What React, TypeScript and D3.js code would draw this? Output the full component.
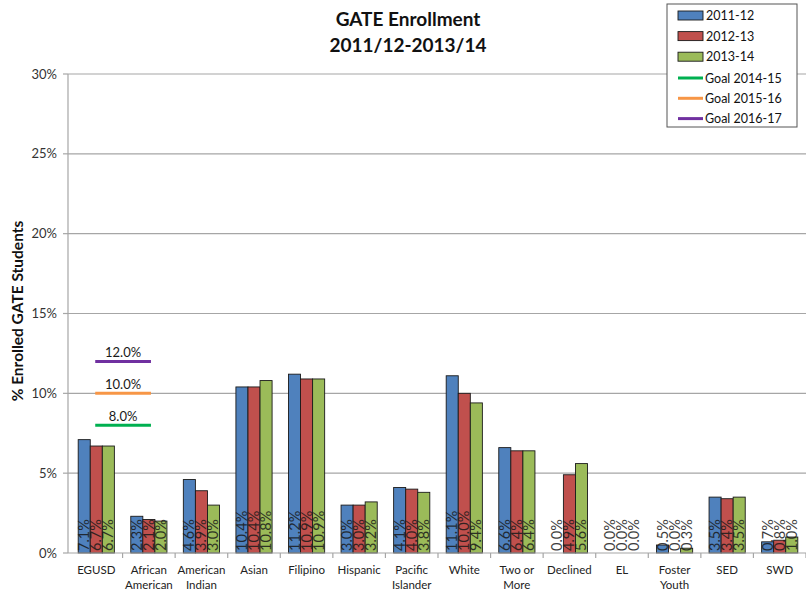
import React from "react";
import * as d3 from "d3";

const categories = [
  ["EGUSD"], ["African", "American"], ["American", "Indian"], ["Asian"], ["Filipino"],
  ["Hispanic"], ["Pacific", "Islander"], ["White"], ["Two or", "More"], ["Declined"],
  ["EL"], ["Foster", "Youth"], ["SED"], ["SWD"],
];
const series = ["2011-12", "2012-13", "2013-14"];
const values2011 = [7.1, 2.3, 4.6, 10.4, 11.2, 3.0, 4.1, 11.1, 6.6, 0.0, 0.0, 0.5, 3.5, 0.7];
const values2012 = [6.7, 2.1, 3.9, 10.4, 10.9, 3.0, 4.0, 10.0, 6.4, 4.9, 0.0, 0.0, 3.4, 0.8];
const values2013 = [6.7, 2.0, 3.0, 10.8, 10.9, 3.2, 3.8, 9.4, 6.4, 5.6, 0.0, 0.3, 3.5, 1.0];
const goals = [
  { name: "Goal 2014-15", value: 8.0 },
  { name: "Goal 2015-16", value: 10.0 },
  { name: "Goal 2016-17", value: 12.0 },
];
const yTicks = [0, 5, 10, 15, 20, 25, 30];

const barColors = ["#4F81BD", "#C0504D", "#9BBB59"];
const goalColors = ["#00B050", "#F79646", "#7030A0"];
const FONT = "Lato, 'Open Sans', sans-serif";

export default function App() {
  const W = 806, H = 590;
  const axisX = 68, left = 70, right = 806, top = 74, bottom = 553;
  const allValues = [values2011, values2012, values2013];
  const x = d3.scaleBand<number>().domain(d3.range(categories.length)).range([left, right]).paddingInner(0).paddingOuter(0);
  const inner = d3.scaleBand<number>().domain([0, 1, 2]).range([0, x.bandwidth()]).paddingOuter(0.68).paddingInner(0);
  const y = d3.scaleLinear().domain([0, 30]).range([bottom, top]);

  const goalX0 = x(0)! + x.bandwidth() * 0.48;
  const goalX1 = x(1)! + x.bandwidth() * 0.54;

  return (
    <svg width={W} height={H} style={{ position: "absolute", left: 0, top: 0, background: "#fff" }} fontFamily={FONT}>
      <rect x={0} y={0} width={W} height={H} fill="#fff" />
      <text x={408} y={26} textAnchor="middle" fontSize={19} fontWeight="bold" fill="#111">GATE Enrollment</text>
      <text x={408} y={52} textAnchor="middle" fontSize={19} fontWeight="bold" fill="#111">2011/12-2013/14</text>
      {yTicks.map((t) => (
        <g key={t}>
          {t > 0 && <line x1={axisX} x2={right} y1={y(t)} y2={y(t)} stroke="#a6a6a6" strokeWidth={1.2} />}
          <line x1={axisX - 5} x2={axisX} y1={y(t)} y2={y(t)} stroke="#a6a6a6" strokeWidth={1.2} />
          <text x={axisX - 11} y={y(t) + 4.5} textAnchor="end" fontSize={13} fill="#333">{t}%</text>
        </g>
      ))}
      <text transform={`translate(23,${311}) rotate(-90)`} textAnchor="middle" fontSize={15.5} fontWeight="bold" fill="#111">% Enrolled GATE Students</text>
      <line x1={axisX} x2={axisX} y1={top} y2={bottom} stroke="#a6a6a6" strokeWidth={1.2} />
      {categories.map((c, i) => (
        <g key={i}>
          <line x1={x(i)! + x.bandwidth()} x2={x(i)! + x.bandwidth()} y1={bottom} y2={bottom + 5} stroke="#a6a6a6" strokeWidth={1.2} />
          {c.map((l, j) => (
            <text key={j} x={x(i)! + x.bandwidth() / 2} y={bottom + 21 + j * 15} textAnchor="middle" fontSize={11.5} fill="#222">{l}</text>
          ))}
          {allValues.map((vals, s) => {
            const bx = x(i)! + inner(s)!;
            const v = vals[i];
            return (
              <g key={s}>
                {v > 0 && <rect x={bx} y={y(v)} width={inner.bandwidth()} height={bottom - y(v)} fill={barColors[s]} stroke="#1a1a1a" strokeWidth={0.9} />}
              </g>
            );
          })}
          {allValues.map((vals, s) => {
            const bx = x(i)! + inner(s)! + inner.bandwidth() / 2;
            return (
              <text key={"l" + s} transform={`translate(${bx + 5},${bottom - 2}) rotate(-90)`} fontSize={14.5} fill="#1a1a1a" opacity={0.85}>{vals[i].toFixed(1)}%</text>
            );
          })}
        </g>
      ))}
      <line x1={axisX} x2={right} y1={bottom} y2={bottom} stroke="#a6a6a6" strokeWidth={1.2} />
      {goals.map((g, i) => (
        <g key={g.name}>
          <line x1={goalX0} x2={goalX1} y1={y(g.value)} y2={y(g.value)} stroke={goalColors[i]} strokeWidth={3} />
          <text x={(goalX0 + goalX1) / 2} y={y(g.value) - 4} textAnchor="middle" fontSize={13} fill="#1a1a1a">{g.value.toFixed(1)}%</text>
        </g>
      ))}
      <g>
        <rect x={667} y={4} width={130} height={123} fill="#fff" stroke="#555" strokeWidth={1} />
        {series.map((s, i) => (
          <g key={s}>
            <rect x={678} y={11 + i * 20.6} width={25} height={9} fill={barColors[i]} stroke="#1a1a1a" strokeWidth={0.9} />
            <text x={706} y={20 + i * 20.6} fontSize={12.5} fill="#111">{s}</text>
          </g>
        ))}
        {goals.map((g, i) => (
          <g key={g.name}>
            <line x1={678} x2={703} y1={78 + i * 20.3} y2={78 + i * 20.3} stroke={goalColors[i]} strokeWidth={3} />
            <text x={705} y={82.5 + i * 20.3} fontSize={12.5} fill="#111">{g.name}</text>
          </g>
        ))}
      </g>
    </svg>
  );
}
